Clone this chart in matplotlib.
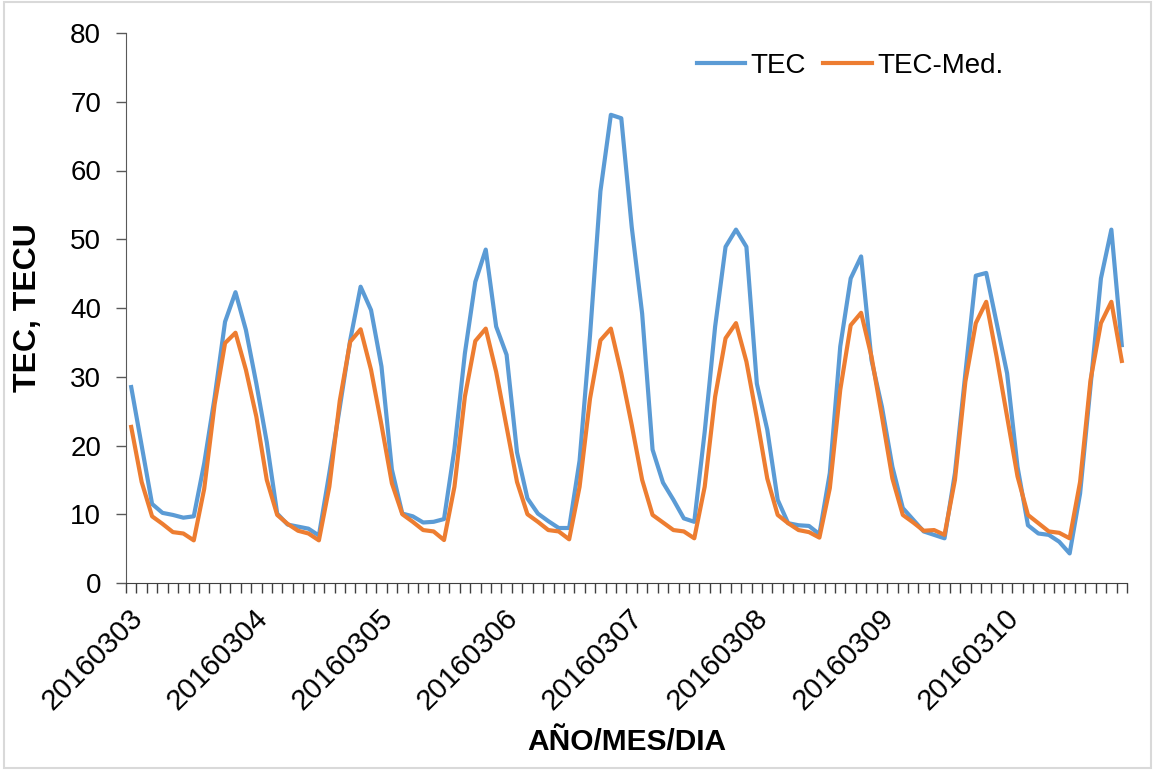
import numpy as np
from matplotlib import pyplot as plt
from matplotlib.patches import Rectangle
import matplotlib.transforms as mtransforms

# TEC and median TEC, 12 samples per day (every 2 h), 2016-03-03 .. 2016-03-10
days = ['20160303', '20160304', '20160305', '20160306',
        '20160307', '20160308', '20160309', '20160310']
tec = [28.5, 20.0, 11.5, 10.2, 9.9, 9.5, 9.7, 17.4, 27.0, 38.0, 42.3, 36.8,
       29.0, 20.5, 10.1, 8.5, 8.2, 7.9, 6.9, 16.0, 25.5, 35.3, 43.1, 39.7,
       31.5, 16.5, 10.1, 9.7, 8.8, 8.9, 9.3, 19.5, 33.4, 43.8, 48.5, 37.3,
       33.2, 19.0, 12.3, 10.1, 9.0, 8.0, 8.0, 17.8, 36.0, 57.0, 68.1, 67.6,
       51.8, 39.2, 19.4, 14.6, 12.1, 9.4, 8.9, 22.0, 37.3, 48.9, 51.4, 48.9,
       29.0, 22.3, 12.1, 8.7, 8.4, 8.3, 7.1, 16.0, 34.4, 44.3, 47.5, 32.4,
       25.6, 16.9, 10.9, 9.2, 7.5, 7.0, 6.5, 16.0, 30.5, 44.7, 45.1, 37.8,
       30.5, 16.9, 8.4, 7.2, 7.0, 6.0, 4.3, 13.0, 28.6, 44.3, 51.4, 34.6]
tec_med = [22.7, 14.7, 9.7, 8.6, 7.4, 7.2, 6.2, 13.7, 26.0, 34.9, 36.4, 31.0,
           24.2, 15.0, 9.9, 8.6, 7.6, 7.2, 6.2, 14.0, 26.5, 35.1, 36.9, 31.0,
           23.0, 14.5, 10.0, 8.9, 7.7, 7.5, 6.25, 14.0, 27.1, 35.2, 37.0, 30.7,
           22.7, 14.7, 10.0, 8.9, 7.7, 7.5, 6.35, 14.0, 26.8, 35.3, 37.0, 30.5,
           23.0, 15.0, 9.9, 8.8, 7.7, 7.5, 6.5, 14.0, 27.1, 35.6, 37.8, 32.2,
           24.0, 15.2, 9.9, 8.7, 7.7, 7.4, 6.6, 13.8, 28.1, 37.5, 39.3, 32.9,
           24.2, 15.2, 9.9, 8.8, 7.6, 7.7, 7.0, 15.0, 29.3, 37.8, 40.9, 32.9,
           24.2, 15.5, 9.9, 8.7, 7.5, 7.3, 6.5, 14.7, 29.5, 37.8, 40.9, 32.3]
per_day = 12

plt.rcParams['font.family'] = ['Liberation Sans', 'DejaVu Sans']

x = np.arange(len(tec))
fig = plt.figure(figsize=(11.55, 7.7), dpi=100)
ax = fig.add_axes([126 / 1155, 1 - 583 / 770, 1001 / 1155, 550 / 770])

ax.plot(x, tec, color='#5B9BD5', lw=3, label='TEC')
ax.plot(x, tec_med, color='#ED7D31', lw=3, label='TEC-Med.')

ax.set_xlim(-0.5, len(tec) - 0.5)
ax.set_ylim(0, 80)
ax.set_yticks(np.arange(0, 81, 10))

ax.set_xticks(np.arange(0, len(tec), per_day))
ax.set_xticklabels(days, rotation=45, ha='right', va='top', rotation_mode='anchor')
ax.set_xticks(np.arange(-0.5, len(tec)), minor=True)
ax.tick_params(axis='x', which='major', length=0, pad=15, labelsize=21)
ax.tick_params(axis='x', which='minor', length=7, width=1, color='#404040')
ax.tick_params(axis='y', length=7, width=1, color='#595959', pad=11, labelsize=20)
shift = mtransforms.ScaledTranslation(-3 / 100, 0, fig.dpi_scale_trans)
for lab in ax.get_xticklabels():
    lab.set_transform(lab.get_transform() + shift)

for s in ('top', 'right'):
    ax.spines[s].set_visible(False)
ax.spines['left'].set_color('#595959')
ax.spines['bottom'].set_color('#404040')

ax.set_ylabel('TEC, TECU', fontsize=23, fontweight='bold', va='center')
ax.yaxis.set_label_coords((28 - 126) / 1001, 0.5)
ax.set_xlabel('AÑO/MES/DIA', fontsize=21.5, fontweight='bold', va='center')
ax.xaxis.set_label_coords(0.5, (583 - 742) / 550)

ax.legend(loc='center', bbox_to_anchor=((850 - 126) / 1001, (583 - 66) / 550),
          ncol=2, frameon=False, fontsize=20, handlelength=1.75,
          handletextpad=0.2, columnspacing=0.6, borderpad=0)

fig.patches.append(Rectangle((4 / 1155, 2 / 770), 1 - 8 / 1155, 1 - 4 / 770,
                             transform=fig.transFigure, fill=False,
                             edgecolor='#d9d9d9', lw=1.5))

fig.savefig('out.png', dpi=100)
